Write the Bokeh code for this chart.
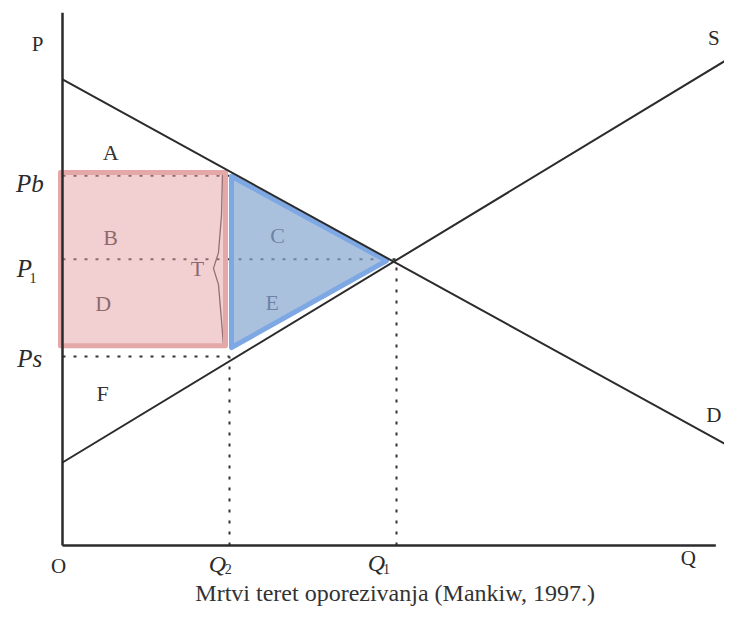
from bokeh.plotting import figure
from bokeh.models import Range1d
from bokeh.core.properties import value
from bokeh.embed import file_html
from bokeh.resources import INLINE

# ---------------- data ----------------
demand_q = [0.0, 10.15]
demand_p = [9.77, 1.95]
supply_q = [0.0, 10.0]
supply_p = [1.74, 10.23]
Q2, Q1 = 2.5, 5.0
Pb, P1, Ps = 7.75, 6.0, 3.96
axis_p_max = 11.17
axis_q_max = 9.78

# highlighted areas: tax revenue (B+D) and deadweight loss (C+E)
revenue_q = [-0.03, 2.44]
revenue_p = [4.19, 7.82]
dwl_q = [2.53, 4.85, 2.53]
dwl_p = [7.74, 5.97, 4.15]

# tax wedge brace "T"
brace_q = [2.395, 2.38, 2.335, 2.26, 2.335, 2.38, 2.41]
brace_p = [7.80, 6.92, 6.14, 5.81, 5.47, 4.72, 4.19]

area_labels = ["A", "B", "C", "D", "E", "F", "T"]
curve_labels = ["P", "S", "D", "O", "Q"]
price_labels = ["Pb", "P", "Ps"]
qty_labels = ["Q", "Q"]
subscripts = ["1", "2", "1"]
caption = "Mrtvi teret oporezivanja (Mankiw, 1997.)"

# ---------------- layout ----------------
SX, SY = 66.8, 47.7          # px per data unit
W, H = 724, 607
x0_px, y0_px = 62, 545       # origin inside the canvas
x_range = Range1d(-x0_px / SX, (W - x0_px) / SX)
y_range = Range1d(-(H - y0_px) / SY, y0_px / SY)

p = figure(width=W, height=H, x_range=x_range, y_range=y_range,
           output_backend="svg", toolbar_location=None,
           x_axis_location=None, y_axis_location=None, min_border=0)
p.grid.visible = False
p.outline_line_color = None
p.background_fill_color = "white"
p.border_fill_color = "white"

SERIF = value("Liberation Serif")
ink = "#2b2b2b"

# labels drawn under translucent fills
lab_x = [0.72, 0.72, 3.22, 0.61, 3.14, 0.60, 2.02]
lab_y = [8.24, 6.46, 6.50, 5.07, 5.09, 3.19, 5.81]
p.text(x=lab_x, y=lab_y, text=area_labels, text_font=SERIF,
       text_font_size="22px", text_align="center", text_baseline="middle",
       text_color="#333333")

# dotted guides
dot = dict(line_color="#333333", line_width=2, line_dash="3 8")
p.line([0, Q2], [Pb, Pb], **dot)
p.line([0, Q1], [P1, P1], **dot)
p.line([0, Q2], [Ps, Ps], **dot)
p.line([Q2, Q2], [0, Ps], **dot)
p.line([Q1, Q1], [0, P1], **dot)

# tax wedge brace
p.line(brace_q, brace_p, line_color="#4a3a3a", line_width=1.3)

# revenue box (pink)
p.quad(left=[revenue_q[0]], right=[revenue_q[1]], bottom=[revenue_p[0]],
       top=[revenue_p[1]], fill_color="#e5a1a5", fill_alpha=0.5,
       line_color="#e4a8a8", line_width=5, line_join="round")

# deadweight-loss triangle (blue)
p.patch(dwl_q, dwl_p, fill_color="#86a6d0", fill_alpha=0.7,
        line_color="#7ea8e3", line_width=5, line_join="round")

# axes
p.line([0, 0], [0, axis_p_max], line_color=ink, line_width=2.5)
p.line([0, axis_q_max], [0, 0], line_color=ink, line_width=2.5)

# demand and supply
p.line(demand_q, demand_p, line_color=ink, line_width=2)
p.line(supply_q, supply_p, line_color=ink, line_width=2)

# curve / axis letters
cx = [-0.374, 9.75, 9.75, -0.06, 9.37]
cy = [10.52, 10.63, 2.73, -0.42, -0.27]
p.text(x=cx, y=cy, text=curve_labels, text_font=SERIF, text_font_size="21px",
       text_align="center", text_baseline="middle", text_color=ink)

# italic price labels
px_ = [-0.49, -0.57, -0.49]
py_ = [7.59, 5.81, 3.92]
p.text(x=px_, y=py_, text=price_labels, text_font=SERIF, text_font_size="25px",
       text_font_style="italic", text_align="center", text_baseline="middle",
       text_color=ink)

# italic quantity labels
qx = [2.32, 4.70]
qy = [-0.38, -0.36]
p.text(x=qx, y=qy, text=qty_labels, text_font=SERIF, text_font_size="24px",
       text_font_style="italic", text_align="center", text_baseline="middle",
       text_color=ink)

# subscripts
sx = [-0.44, 2.48, 4.85]
sy = [5.60, -0.50, -0.50]
p.text(x=sx, y=sy, text=subscripts, text_font=SERIF, text_font_size="14px",
       text_align="center", text_baseline="middle", text_color=ink)

# caption
p.text(x=[4.98], y=[-1.0], text=[caption], text_font=SERIF,
       text_font_size="24px", text_align="center", text_baseline="middle",
       text_color="#333333")

open("out.html", "w").write(file_html(p, INLINE))
